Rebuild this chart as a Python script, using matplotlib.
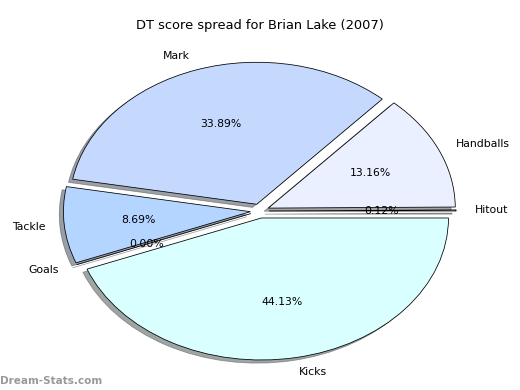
import matplotlib
matplotlib.use("Agg")
from matplotlib import pyplot as plt

labels = ["Hitout", "Handballs", "Mark", "Tackle", "Goals", "Kicks"]
shares = [0.12, 13.16, 33.89, 8.69, 0.00, 44.13]
colors = ["#e8eeff", "#eaf0ff", "#c5d9ff", "#b3d5ff", "#b3d5ff", "#d9ffff"]
explode = [0.05] * len(shares)

fig = plt.figure(figsize=(6.5, 4.875), dpi=80)
ax = fig.add_axes([26.0 / 520, 1.5 / 390, 467.5 / 520, 355.0 / 390])
ax.set_frame_on(False)

wedges, texts, autotexts = ax.pie(shares, labels=labels, colors=colors,
                                  explode=explode, autopct="%1.2f%%",
                                  shadow=True, startangle=0,
                                  wedgeprops={"edgecolor": "black", "linewidth": 0.7},
                                  textprops={"fontsize": 9.8})
ax.set_aspect("auto")
ax.set_xlim(-1.25, 1.25)
ax.set_ylim(-1.25, 1.25)

fig.text(0.5, 1 - 25.0 / 390, "DT score spread for Brian Lake (2007)",
         ha="center", va="center", fontsize=11.7)
fig.text(0.0, 9.0 / 390, "Dream-Stats.com", ha="left", va="center",
         fontsize=9.4, color="#999999", fontweight="bold")

fig.savefig("out.png", dpi=80)
